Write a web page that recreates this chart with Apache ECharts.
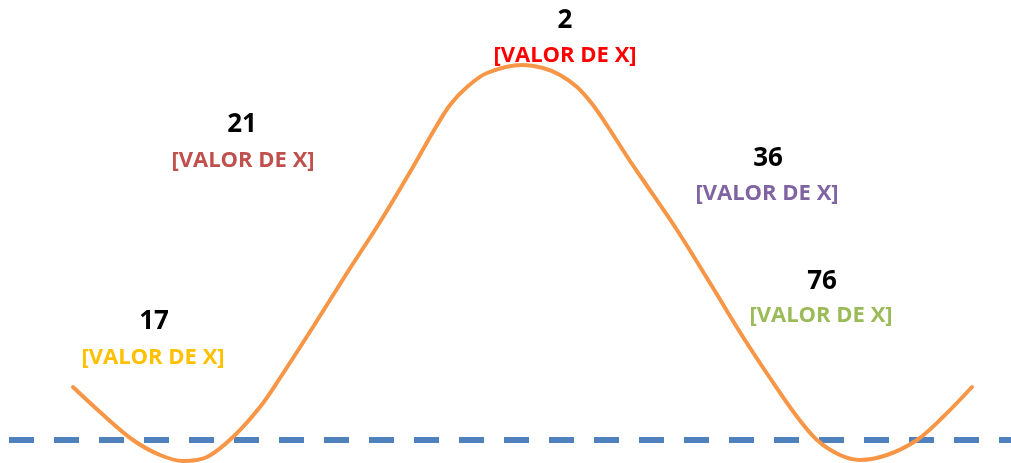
<!DOCTYPE html>
<html>
<head>
<meta charset="utf-8">
<script src="https://cdn.jsdelivr.net/npm/echarts@6/dist/echarts.min.js"></script>
<style>
  html, body { margin: 0; padding: 0; background: #fff; }
  #chart { width: 1011px; height: 463px; }
</style>
</head>
<body>
<div id="chart"></div>
<script>
// curva (x, altura desde abajo)
var curveX = [73, 100, 133, 160, 183, 207, 233, 260, 280, 313, 347, 380, 413, 433, 450, 467, 487, 522, 543, 560, 577, 593, 610, 628, 643, 677, 710, 743, 770, 795, 817, 840, 860, 887, 917, 943, 972];
var curveY = [76, 51, 23, 8, 2, 6, 26, 56, 85, 136, 190, 241, 296, 331, 358, 376, 390, 398, 395, 388, 376, 358, 333, 305, 283, 233, 180, 126, 85, 49, 23, 8, 3, 8, 23, 46, 76];

// linea base discontinua
var baseX = [9, 1011];
var baseY = [23, 23];

// etiquetas
var labelNums = ["17", "21", "2", "36", "76"];
var labelText = "[VALOR DE X]";
var labelColors = ["#ffc000", "#c0504d", "#ff0000", "#8064a2", "#9bbb59"];
var numX = [154, 242, 565, 768, 822];
var numY = [141, 338, 442, 304, 181];
var txtX = [153, 243, 565, 767, 821];
var txtY = [105, 302, 407, 269, 147];

var el = document.getElementById("chart");
var myChart = echarts.init(el);

var curveData = curveX.map(function (x, i) { return [x, curveY[i]]; });
var baseData = baseX.map(function (x, i) { return [x, baseY[i]]; });
var numData = labelNums.map(function (n, i) { return { value: [numX[i], numY[i]], name: n }; });
var txtData = labelColors.map(function (c, i) {
    return { value: [txtX[i], txtY[i]], label: { color: c } };
});

myChart.setOption({
    animation: false,
    grid: { left: 0, right: 0, top: 0, bottom: 0 },
    xAxis: { type: "value", min: 0, max: 1011, show: false },
    yAxis: { type: "value", min: 0, max: 463, show: false },
    series: [{
        type: "line",
        data: baseData,
        symbol: "none",
        lineStyle: { color: "#4f81bd", width: 6, type: [25, 20] }
    }, {
        type: "line",
        data: curveData,
        symbol: "none",
        smooth: 0.33,
        lineStyle: { color: "#f79646", width: 4, cap: "round" }
    }, {
        type: "scatter",
        data: numData,
        symbolSize: 0,
        itemStyle: { opacity: 1 },
        label: {
            show: true,
            position: "inside",
            formatter: function (p) { return p.name; },
            color: "#000",
            textBorderWidth: 0,
            fontFamily: "Open Sans",
            fontWeight: "bold",
            fontSize: 26
        }
    }, {
        type: "scatter",
        data: txtData,
        symbolSize: 0,
        itemStyle: { opacity: 1 },
        label: {
            show: true,
            position: "inside",
            formatter: labelText,
            textBorderWidth: 0,
            fontFamily: "Open Sans",
            fontWeight: "bold",
            fontSize: 22
        }
    }]
});
</script>
</body>
</html>
